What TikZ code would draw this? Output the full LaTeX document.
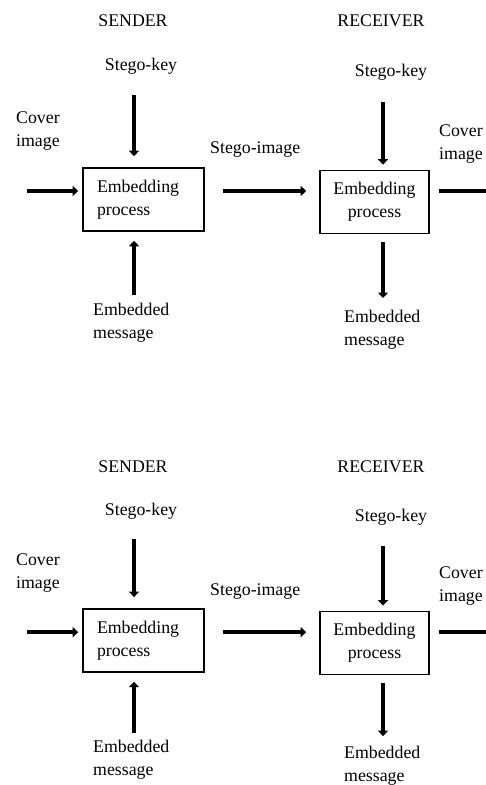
\documentclass[tikz,border=0pt]{standalone}
\usepackage{fontspec}
\setmainfont{Liberation Serif}
\usepackage{tikz}
\usetikzlibrary{arrows.meta,positioning,calc}

\begin{document}
\begin{tikzpicture}[x=1bp, y=-1bp,
    font=\fontsize{17.8bp}{23bp}\selectfont,
    lbl/.style={inner sep=0pt, align=left},
    procbox/.style={draw, line width=1.6bp, minimum height=63bp, inner sep=0pt},
    arr/.style={line width=4.6bp, -{Triangle[length=5.5bp,width=10bp]}}
]
    \clip (0,0) rectangle (486,785);

    \foreach \k/\dy/\sy in {a/0/1, b/446.5/0.972} {
    \begin{scope}[yshift=-\dy bp, yscale=\sy]
        % Headings
        \node[lbl, anchor=base] (send\k) at (133,27) {SENDER};
        \node[lbl, anchor=base] (recv\k) at (381,27) {RECEIVER};

        % Boxes
        \node[procbox, minimum width=121bp, text width=93bp, align=left] (sbox\k) at (143.5,199.5) {Embedding\\process};
        \node[procbox, minimum width=109bp, align=center] (rbox\k) at (374.5,202) {Embedding\\process};

        % Labels (base = last line)
        \node[lbl, anchor=base] (skey\k) at (141,71) {Stego-key};
        \node[lbl, anchor=base] (rkey\k) at (391,77) {Stego-key};
        \node[lbl, anchor=base west] (scov\k) at (16,146) {Cover\\image};
        \node[lbl, anchor=base west] (rcov\k) at (439,159) {Cover\\image};
        \node[lbl, anchor=base west] (smsg\k) at (93,338) {Embedded\\message};
        \node[lbl, anchor=base west] (rmsg\k) at (344,345) {Embedded\\message};
        \node[lbl, anchor=base west] (steg\k) at (210,153) {Stego-image};

        % Free ends of the arrows
        \coordinate (sin\k) at (27,191);
        \coordinate (skt\k) at (134,95);
        \coordinate (smb\k) at (134,295);
        \coordinate (rkt\k) at (383,102);
        \coordinate (rkb\k) at (383,298);
        \coordinate (rout\k) at (500,191);

        % Arrows
        \draw[arr, shorten >=4bp] (sin\k) -- (sin\k -| sbox\k.west);
        \draw[arr, shorten >=11bp] (skt\k) -- (skt\k |- sbox\k.north);
        \draw[arr, shorten >=9bp] (smb\k) -- (smb\k |- sbox\k.south);
        \draw[arr, shorten <=18bp, shorten >=13bp] (sbox\k.east |- sin\k) -- (rbox\k.west |- sin\k);
        \draw[arr, shorten >=5bp] (rkt\k) -- (rkt\k |- rbox\k.north);
        \draw[arr, shorten <=8bp] (rkb\k |- rbox\k.south) -- (rkb\k);
        \draw[arr, shorten <=9bp] (rbox\k.east |- rout\k) -- (rout\k);
    \end{scope}
    }
\end{tikzpicture}
\end{document}
